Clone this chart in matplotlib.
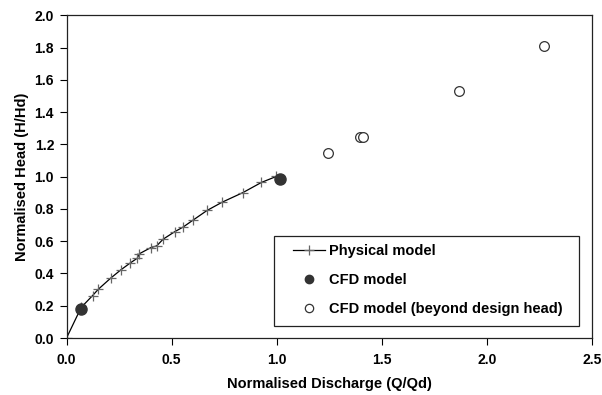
import matplotlib.pyplot as plt
from matplotlib.patches import Rectangle
from matplotlib.ticker import MultipleLocator

plt.rcParams['font.family'] = ['Liberation Sans', 'DejaVu Sans']
plt.rcParams['font.weight'] = 'bold'

# physical model measurements
phys_q = [0.0, 0.07, 0.124, 0.151, 0.210, 0.258, 0.302, 0.337, 0.346, 0.402, 0.429,
          0.460, 0.516, 0.555, 0.600, 0.669, 0.742, 0.840, 0.928, 0.999]
phys_h = [0.0, 0.19, 0.263, 0.302, 0.371, 0.422, 0.464, 0.495, 0.522, 0.561, 0.571,
          0.613, 0.660, 0.688, 0.729, 0.791, 0.843, 0.902, 0.965, 1.002]

# CFD results
cfd_q = [0.069, 1.015]
cfd_h = [0.178, 0.988]

cfd_beyond_q = [1.244, 1.395, 1.411, 1.867, 2.274]
cfd_beyond_h = [1.147, 1.247, 1.247, 1.530, 1.809]

fig = plt.figure(figsize=(6.02, 3.95), dpi=100)
ax = fig.add_axes([0.1105, 0.1443, 0.8725, 0.8165])

ax.plot(phys_q, phys_h, color='black', linewidth=0.9, marker='+', markersize=7.5,
        markeredgecolor='#666666', markeredgewidth=0.9, label='Physical model')
ax.plot(cfd_q, cfd_h, linestyle='none', marker='o', markersize=8,
        markerfacecolor='#333333', markeredgecolor='#333333', label='CFD model')
ax.plot(cfd_beyond_q, cfd_beyond_h, linestyle='none', marker='o', markersize=7,
        markerfacecolor='white', markeredgecolor='#333333', markeredgewidth=0.9,
        label='CFD model (beyond design head)')

ax.set_xlim(0, 2.5)
ax.set_ylim(0, 2.0)
ax.xaxis.set_major_locator(MultipleLocator(0.5))
ax.yaxis.set_major_locator(MultipleLocator(0.2))
ax.xaxis.set_major_formatter(plt.FormatStrFormatter('%.1f'))
ax.yaxis.set_major_formatter(plt.FormatStrFormatter('%.1f'))
ax.tick_params(direction='out', length=5, width=0.8, labelsize=10, pad=4)
ax.tick_params(axis='x', pad=5.5)
for s in ax.spines.values():
    s.set_linewidth(0.9)
    s.set_color('#222222')

ax.set_xlabel('Normalised Discharge (Q/Qd)', fontsize=10.5, fontweight='bold', labelpad=7.5)
ax.set_ylabel('Normalised Head (H/Hd)', fontsize=10.5, fontweight='bold', labelpad=4)

leg = ax.legend(loc='upper left', bbox_to_anchor=(0.431, 0.291), fontsize=10.5,
                frameon=False, borderpad=0, borderaxespad=0,
                labelspacing=1.02, handlelength=2.2, handletextpad=0.25)
for h in leg.legend_handles[1:]:
    h.set_markersize(6)

# legend frame drawn separately so the padding matches the original box
ax.add_patch(Rectangle((0.395, 0.037), 0.580, 0.279, transform=ax.transAxes,
                       fill=False, edgecolor='#222222', linewidth=0.9, zorder=5))

plt.savefig('out.png', dpi=100)
